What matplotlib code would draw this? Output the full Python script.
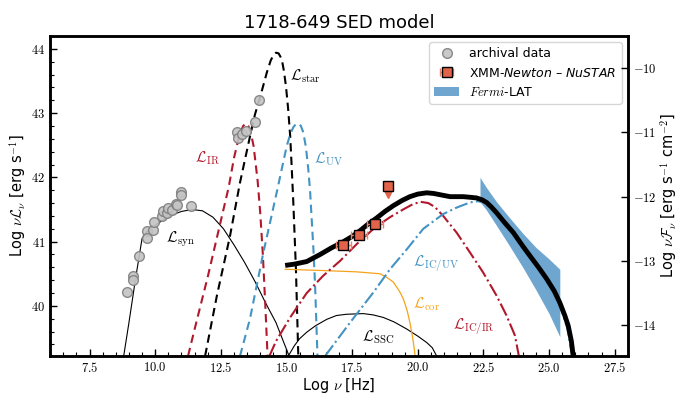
import matplotlib
matplotlib.use('Agg')
from matplotlib import pyplot as plt
from matplotlib.ticker import MultipleLocator, FuncFormatter

plt.rcParams['mathtext.fontset'] = 'cm'

# archival photometry (log nu, log nuLnu)
arch_x = [8.92, 9.15, 9.17, 9.40, 9.68, 9.70, 9.91, 9.95, 10.25, 10.31, 10.44, 10.50,
          10.63, 10.80, 10.82, 10.99, 10.99, 11.38, 13.11, 13.14, 13.30, 13.46, 13.80, 13.97]
arch_y = [40.21, 40.46, 40.41, 40.77, 41.17, 41.05, 41.18, 41.31, 41.40, 41.47, 41.45, 41.53,
          41.50, 41.58, 41.57, 41.78, 41.73, 41.56, 42.71, 42.61, 42.68, 42.72, 42.86, 43.21]

# XMM-Newton / NuSTAR
xmm_x = [17.17, 17.76, 18.37]
xmm_y = [40.94, 41.10, 41.27]
xmm_xerr = [0.28, 0.30, 0.30]
xmm_ul_x = 18.85
xmm_ul_y = 41.87

# Fermi-LAT butterfly
fermi_x = [22.37, 22.6, 23.0, 23.5, 24.0, 24.5, 25.0, 25.41]
fermi_hi = [42.00, 41.85, 41.62, 41.37, 41.13, 40.91, 40.73, 40.57]
fermi_lo = [41.62, 41.50, 41.25, 40.93, 40.60, 40.25, 39.88, 39.52]

# model components
syn_x = [8.80, 9.0, 9.25, 9.5, 9.65, 9.8, 10.2, 10.6, 11.0, 11.4, 11.8, 12.2, 12.6, 13.0,
         13.4, 13.8, 14.2, 14.6, 15.1]
syn_y = [39.22, 39.74, 40.42, 41.05, 41.14, 41.20, 41.31, 41.41, 41.47, 41.50, 41.48, 41.38,
         41.20, 40.95, 40.68, 40.38, 40.05, 39.74, 39.22]

ir_x = [11.25, 11.6, 12.0, 12.4, 12.8, 13.0, 13.2, 13.35, 13.45, 13.55, 13.65, 13.75, 13.9,
        14.0, 14.1, 14.2, 14.28]
ir_y = [39.22, 39.80, 40.45, 41.15, 41.85, 42.30, 42.65, 42.80, 42.84, 42.80, 42.68, 42.48,
        41.95, 41.45, 40.80, 39.95, 39.22]

star_x = [11.90, 12.35, 12.85, 13.23, 13.59, 13.80, 13.99, 14.25, 14.40, 14.50, 14.60, 14.70,
          14.82, 14.90, 14.98, 15.06, 15.14, 15.20, 15.26, 15.36, 15.45]
star_y = [39.22, 40.16, 41.09, 41.92, 42.60, 42.98, 43.24, 43.63, 43.82, 43.90, 43.94, 43.93,
          43.84, 43.66, 43.42, 43.08, 42.65, 42.15, 41.61, 40.57, 39.22]

uv_x = [13.23, 13.61, 14.12, 14.63, 15.01, 15.15, 15.26, 15.36, 15.45, 15.55, 15.64, 15.74,
        15.83, 15.90, 15.96, 16.03, 16.09, 16.18]
uv_y = [39.22, 39.80, 40.83, 41.77, 42.49, 42.68, 42.78, 42.83, 42.84, 42.80, 42.70, 42.47,
        42.13, 41.78, 41.35, 40.85, 40.31, 39.22]

ssc_x = [15.07, 15.3, 15.5, 15.77, 16.1, 16.53, 16.9, 17.29, 17.93, 18.3, 18.69, 19.1, 19.58,
         20.0, 20.34, 20.55, 20.72]
ssc_y = [39.22, 39.38, 39.49, 39.59, 39.69, 39.79, 39.85, 39.87, 39.88, 39.86, 39.82, 39.75,
         39.64, 39.53, 39.43, 39.35, 39.22]

cor_x = [14.95, 16.40, 17.67, 18.56, 18.80, 19.07, 19.30, 19.45, 19.60, 19.70, 19.80, 19.86,
         19.90]
cor_y = [40.57, 40.55, 40.53, 40.50, 40.45, 40.37, 40.23, 40.11, 39.92, 39.74, 39.52, 39.35,
         39.22]

icir_x = [14.35, 14.6, 15.14, 15.77, 16.40, 17.04, 17.67, 18.37, 18.94, 19.44, 19.80, 20.10,
          20.40, 20.65, 20.97, 21.48, 21.99, 22.49, 23.00, 23.38, 23.70, 23.85]
icir_y = [39.22, 39.45, 39.82, 40.20, 40.47, 40.70, 40.96, 41.22, 41.38, 41.50, 41.58, 41.62,
          41.60, 41.54, 41.40, 41.14, 40.83, 40.52, 40.16, 39.85, 39.54, 39.22]

icuv_x = [16.47, 17.42, 18.31, 18.94, 19.58, 20.21, 20.97, 21.48, 21.99, 22.30, 22.55, 22.8,
          23.0, 23.5, 24.0, 24.5, 25.0, 25.4, 25.7, 25.88]
icuv_y = [39.22, 39.74, 40.21, 40.57, 40.88, 41.20, 41.43, 41.53, 41.61, 41.63, 41.60, 41.52,
          41.42, 41.13, 40.86, 40.58, 40.30, 40.02, 39.65, 39.22]

tot_x = [14.95, 15.30, 15.77, 16.28, 16.70, 17.17, 17.50, 17.80, 18.10, 18.44, 18.75, 19.07,
         19.40, 19.70, 20.00, 20.34, 20.60, 20.85, 21.23, 21.73, 22.00, 22.24, 22.45, 22.62,
         22.80, 23.00, 23.30, 23.64, 24.00, 24.27, 24.60, 24.91, 25.20, 25.41, 25.60, 25.73,
         25.85, 25.92]
tot_y = [40.63, 40.65, 40.69, 40.80, 40.90, 41.00, 41.08, 41.17, 41.27, 41.37, 41.47, 41.56,
         41.64, 41.70, 41.74, 41.76, 41.75, 41.73, 41.70, 41.70, 41.69, 41.68, 41.65, 41.61,
         41.54, 41.45, 41.30, 41.14, 40.93, 40.78, 40.60, 40.42, 40.23, 40.05, 39.85, 39.69,
         39.45, 39.22]

# luminosity distance term: log(4 pi d^2)
log_4pid2 = 53.70

red = '#b2182b'
blue = '#4393c3'
orange = '#f5a31a'

fig = plt.figure(figsize=(6.78, 3.94), dpi=100)
ax = fig.add_axes([0.074, 0.0964, 0.852, 0.8122])

ax.plot(syn_x, syn_y, c='k', lw=0.8)
ax.plot(ir_x, ir_y, c=red, lw=1.5, dashes=(4, 2.5))
ax.plot(star_x, star_y, c='k', lw=1.5, dashes=(4, 2.5))
ax.plot(uv_x, uv_y, c=blue, lw=1.5, dashes=(4, 2.5))
ax.plot(ssc_x, ssc_y, c='k', lw=0.8)
ax.plot(cor_x, cor_y, c=orange, lw=0.9)
ax.plot(icir_x, icir_y, c=red, lw=1.5, ls='-.')
ax.plot(icuv_x, icuv_y, c=blue, lw=1.5, ls='-.')
ax.fill_between(fermi_x, fermi_lo, fermi_hi, color='#6fa6d0', lw=0, label='$Fermi$-LAT', zorder=3)
ax.plot(tot_x, tot_y, c='k', lw=3.5, zorder=4, solid_capstyle='butt')

ax.plot(arch_x, arch_y, 'o', ms=7, mfc='#c4c4c4', mec='#7f7f7f', mew=1, alpha=0.9,
        label='archival data', zorder=5)
ax.errorbar(xmm_x, xmm_y, xerr=xmm_xerr, fmt='s', ms=7, mfc='#e0634a', mec='k', mew=1,
            ecolor='#e8806c', elinewidth=1, capsize=3, label=r'XMM-$\it{Newton}$ – $\it{NuSTAR}$',
            zorder=6)
ax.plot([xmm_ul_x, xmm_ul_x], [xmm_ul_y, xmm_ul_y - 0.12], c='#e8806c', lw=1.2, zorder=5)
ax.plot(xmm_ul_x, xmm_ul_y - 0.12, 'v', ms=7, c='#e0634a', zorder=5)
ax.plot(xmm_ul_x, xmm_ul_y, 's', ms=7, mfc='#e0634a', mec='k', mew=1, zorder=6)

lab_kw = dict(fontsize=11, va='center', ha='left')
ax.text(10.42, 41.03, r'$\mathcal{L}_{\rm syn}$', color='k', **lab_kw)
ax.text(15.14, 43.58, r'$\mathcal{L}_{\rm star}$', color='k', **lab_kw)
ax.text(11.52, 42.30, r'$\mathcal{L}_{\rm IR}$', color=red, **lab_kw)
ax.text(16.05, 42.29, r'$\mathcal{L}_{\rm UV}$', color=blue, **lab_kw)
ax.text(19.82, 40.66, r'$\mathcal{L}_{\rm IC/UV}$', color=blue, **lab_kw)
ax.text(19.82, 40.03, r'$\mathcal{L}_{\rm cor}$', color=orange, **lab_kw)
ax.text(21.34, 39.68, r'$\mathcal{L}_{\rm IC/IR}$', color=red, **lab_kw)
ax.text(17.88, 39.52, r'$\mathcal{L}_{\rm SSC}$', color='k', **lab_kw)

ax.set_xlim(6, 28)
ax.set_ylim(39.22, 44.2)
ax.xaxis.set_major_locator(MultipleLocator(2.5))
ax.xaxis.set_minor_locator(MultipleLocator(0.5))
ax.yaxis.set_major_locator(MultipleLocator(1))
ax.yaxis.set_minor_locator(MultipleLocator(0.2))
ax.xaxis.set_major_formatter(FuncFormatter(lambda v, p: '$%.1f$' % v))
ax.yaxis.set_major_formatter(FuncFormatter(lambda v, p: '$%g$' % v))
ax.tick_params(which='both', direction='in', labelsize=9, top=False, right=False)
ax.tick_params(which='major', length=5, width=1)
ax.tick_params(which='minor', length=3, width=0.8)
for s in ax.spines.values():
    s.set_linewidth(1.8)

ax.set_xlabel(r'Log $\nu$ [Hz]', fontsize=10.5, labelpad=1)
ax.set_ylabel(r'Log $\nu\mathcal{L}_\nu$ [erg s$^{-1}$]', fontsize=10.5, labelpad=2)
ax.set_title('1718-649 SED model', fontsize=13)

ax2 = ax.twinx()
ax2.set_ylim(39.22 - log_4pid2, 44.2 - log_4pid2)
ax2.yaxis.set_major_locator(MultipleLocator(1))
ax2.yaxis.set_major_formatter(FuncFormatter(lambda v, p: '$%g$' % v))
ax2.tick_params(direction='in', labelsize=9, length=5, width=1)
for s in ax2.spines.values():
    s.set_linewidth(1.8)
ax2.set_ylabel(r'Log $\nu\mathcal{F}_\nu$ [erg s$^{-1}$ cm$^{-2}$]', fontsize=10.5, labelpad=1)

h, l = ax.get_legend_handles_labels()
order = [l.index('archival data'), l.index(r'XMM-$\it{Newton}$ – $\it{NuSTAR}$'), l.index('$Fermi$-LAT')]
leg = ax.legend([h[i] for i in order], [l[i] for i in order], loc='upper right', fontsize=9)
leg.get_texts()[1].set_math_fontfamily('dejavusans')

fig.savefig('out.png', dpi=100)
